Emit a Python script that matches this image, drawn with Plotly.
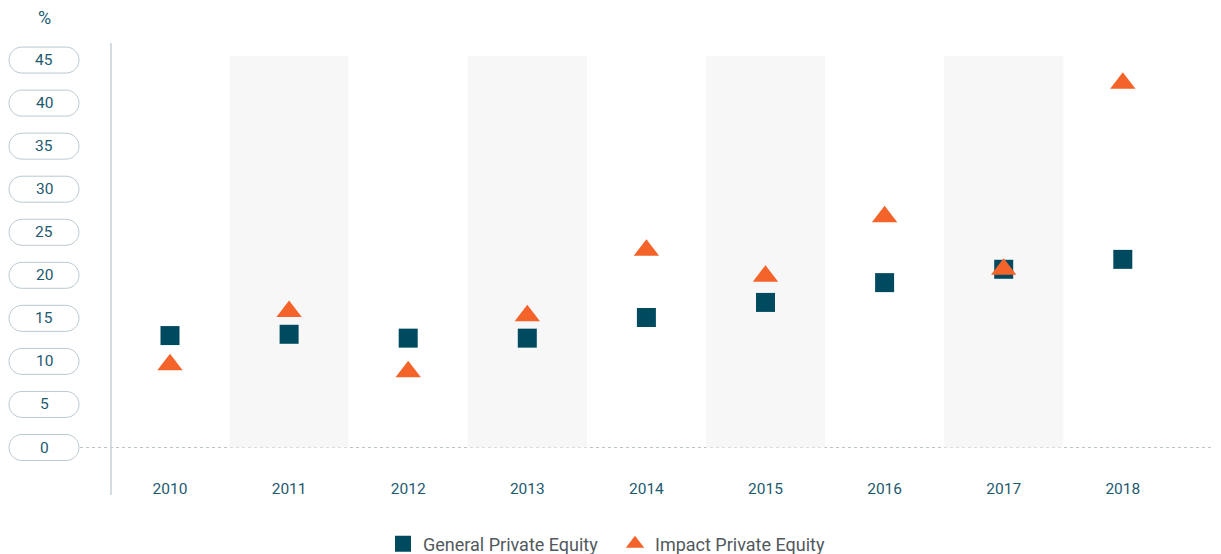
import plotly.graph_objects as go

years = ["2010", "2011", "2012", "2013", "2014", "2015", "2016", "2017", "2018"]
general_pe = [13.0, 13.15, 12.7, 12.7, 15.1, 16.85, 19.15, 20.7, 21.85]
impact_pe = [9.6, 15.8, 8.8, 15.3, 22.9, 19.9, 26.8, 20.7, 42.3]
y_ticks = [0, 5, 10, 15, 20, 25, 30, 35, 40, 45]

TEAL = "#004a60"
ORANGE = "#f4632a"
LABEL = "#1d5a70"
FONT = "Roboto"

OFF = 8  # page body margin
W, H = 1221 - OFF, 554 - OFF
ML, MR, MT, MB = 111 - OFF, 0, 43 - OFF, 84
PW = W - ML - MR
PH = H - MT - MB
STEP = 119.1  # px per category


def px_x(px):  # reference pixel x -> paper
    return (px - 111) / PW


def px_y(py):  # reference pixel y -> paper
    return (470 - py) / PH


xs = list(range(len(years)))
x0 = -0.5 - (170 - 0.5 * STEP - 111) / STEP
x_range = [x0, x0 + PW / STEP]
y_range = [-(470 - 447.5) / 8.61, (447.5 - 43) / 8.61]

fig = go.Figure()
fig.add_trace(go.Scatter(
    x=xs, y=general_pe, mode="markers", name="General Private Equity",
    marker=dict(symbol="square", size=19, color=TEAL, line=dict(width=0)),
))
fig.add_trace(go.Scatter(
    x=xs, y=impact_pe, mode="markers", name="Impact Private Equity",
    marker=dict(symbol="triangle-up", size=22, color=ORANGE, line=dict(width=0)),
))

shapes = []
for i in xs:
    if i % 2 == 1:
        shapes.append(dict(type="rect", xref="x", yref="y", x0=i - 0.5, x1=i + 0.5,
                           y0=0, y1=45.47, fillcolor="#f7f7f7", line=dict(width=0),
                           layer="below"))
shapes.append(dict(type="line", xref="paper", yref="y", x0=px_x(80), x1=1,
                   y0=0, y1=0, line=dict(color="#b8c3c9", width=1, dash="dot"), layer="below"))
shapes.append(dict(type="line", xref="paper", yref="paper", x0=0, x1=0,
                   y0=px_y(495), y1=1, line=dict(color="#c3d1d8", width=1.5)))
k = 7.18
pill = ("M -22,-13 H 22 C {a},-13 35,-{k} 35,0 C 35,{k} {a},13 22,13 H -22 "
        "C -{a},13 -35,{k} -35,0 C -35,-{k} -{a},-13 -22,-13 Z").format(a=22 + k, k=k)
annotations = []
cx = px_x(44)
for v in y_ticks:
    shapes.append(dict(type="path", xref="paper", yref="y", xsizemode="pixel",
                       ysizemode="pixel", xanchor=cx, yanchor=v, path=pill,
                       fillcolor="white", line=dict(color="#b9cad2", width=1)))
    annotations.append(dict(xref="paper", yref="y", x=cx, y=v, text=str(v),
                            showarrow=False, xanchor="center", yanchor="middle",
                            font=dict(family=FONT, size=15.5, color=LABEL)))
annotations.append(dict(xref="paper", yref="paper", x=cx, y=px_y(18),
                        text="%", showarrow=False, xanchor="center", yanchor="middle",
                        font=dict(family=FONT, size=18, color=LABEL)))

fig.update_layout(
    width=W, height=H,
    margin=dict(l=ML, r=MR, t=MT, b=MB, autoexpand=False),
    plot_bgcolor="white", paper_bgcolor="white",
    font=dict(family=FONT, size=15.5, color=LABEL),
    xaxis=dict(range=x_range, tickmode="array", tickvals=xs, ticktext=years,
               showgrid=False, zeroline=False, showline=False, ticks="",
               ticklabelstandoff=7,
               tickfont=dict(family=FONT, size=15.5, color=LABEL), fixedrange=True),
    yaxis=dict(range=y_range, showgrid=False, zeroline=False, showline=False,
               showticklabels=False, ticks="", fixedrange=True),
    shapes=shapes,
    annotations=annotations,
    showlegend=True,
    legend=dict(orientation="h", x=px_x(383), xanchor="left",
                y=px_y(544), yanchor="middle",
                font=dict(family=FONT, size=18, color="#52595e"),
                itemsizing="trace", entrywidth=187, bgcolor="rgba(0,0,0,0)"),
)

fig.write_html("out.html")
